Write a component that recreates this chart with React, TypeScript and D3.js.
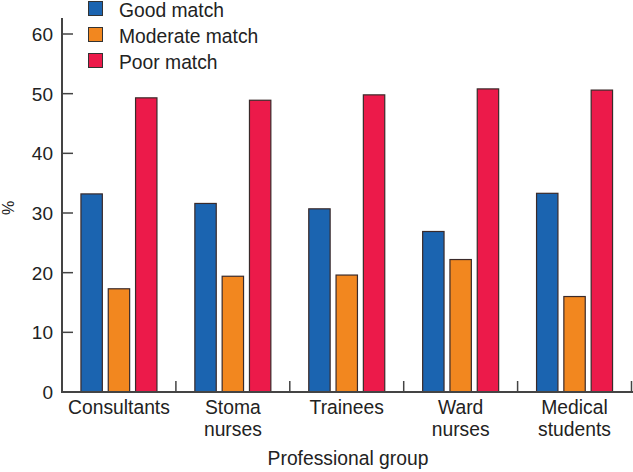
import React from "react";
import * as d3 from "d3";

const categories: string[][] = [
  ["Consultants"],
  ["Stoma", "nurses"],
  ["Trainees"],
  ["Ward", "nurses"],
  ["Medical", "students"],
];
const seriesNames = ["Good match", "Moderate match", "Poor match"];
const goodMatch = [33.2, 31.6, 30.7, 26.9, 33.3];
const moderateMatch = [17.3, 19.4, 19.6, 22.2, 16.0];
const poorMatch = [49.3, 48.9, 49.8, 50.8, 50.6];
const yTicks = [0, 10, 20, 30, 40, 50, 60];
const colors = ["#1b64b0", "#f2871f", "#ec1a4a"];

const W = 633;
const H = 472;
const x0 = 62;
const x1 = 631.5;
const yBottom = 392;

export default function App() {
  const series = [goodMatch, moderateMatch, poorMatch];
  const y = d3.scaleLinear().domain([0, 60]).range([yBottom, 34]);
  const xBand = d3
    .scaleBand<number>()
    .domain(d3.range(categories.length))
    .range([x0, x1])
    .paddingInner(0)
    .paddingOuter(0);
  const step = xBand.bandwidth();
  const groupWidth = 77;
  const xInner = d3
    .scaleBand<number>()
    .domain(d3.range(series.length))
    .range([0, groupWidth])
    .paddingInner(0.18);
  const font = "'Liberation Sans', Arial, Helvetica, sans-serif";
  const axisColor = "#444";

  return (
    <svg
      width={W}
      height={H}
      style={{ position: "absolute", left: 0, top: 0, background: "#fff" }}
      fontFamily={font}
    >
      {/* bars */}
      {categories.map((_, ci) => {
        const gx = (xBand(ci) as number) + (step - groupWidth) / 2;
        return (
          <g key={ci} transform={`translate(${gx},0)`}>
            {series.map((s, si) => (
              <rect
                key={si}
                x={(xInner(si) as number) + 0.5}
                y={y(s[ci])}
                width={xInner.bandwidth() - 1}
                height={yBottom - y(s[ci])}
                fill={colors[si]}
                stroke="#3a2a2a"
                strokeWidth={1.2}
              />
            ))}
          </g>
        );
      })}

      {/* y axis */}
      <line x1={x0} x2={x0} y1={18} y2={yBottom + 1} stroke={axisColor} strokeWidth={2} />
      {yTicks.map((t) => (
        <g key={t}>
          {t > 0 && (
            <line x1={x0} x2={x0 + 11} y1={y(t)} y2={y(t)} stroke={axisColor} strokeWidth={1.5} />
          )}
          <text x={53} y={y(t)} dy="0.36em" textAnchor="end" fontSize={19} fill="#222">
            {t}
          </text>
        </g>
      ))}
      <text
        transform={`translate(14,208) rotate(-90)`}
        textAnchor="middle"
        fontSize={16}
        fill="#222"
      >
        %
      </text>

      {/* x axis */}
      <line x1={x0 - 1} x2={W} y1={yBottom} y2={yBottom} stroke={axisColor} strokeWidth={2} />
      {categories.map((_, ci) =>
        ci > 0 ? (
          <line
            key={ci}
            x1={xBand(ci) as number}
            x2={xBand(ci) as number}
            y1={yBottom}
            y2={yBottom - 11}
            stroke={axisColor}
            strokeWidth={1.5}
          />
        ) : null
      )}
      <line x1={x1} x2={x1} y1={yBottom} y2={yBottom - 11} stroke={axisColor} strokeWidth={1.5} />
      {categories.map((lines, ci) => (
        <text
          key={ci}
          x={(xBand(ci) as number) + step / 2}
          y={414}
          textAnchor="middle"
          fontSize={19.3}
          fill="#222"
        >
          {lines.map((l, li) => (
            <tspan key={li} x={(xBand(ci) as number) + step / 2} dy={li === 0 ? 0 : 22}>
              {l}
            </tspan>
          ))}
        </text>
      ))}
      <text x={348} y={465} textAnchor="middle" fontSize={19.3} fill="#222">
        Professional group
      </text>

      {/* legend */}
      {seriesNames.map((n, i) => (
        <g key={n} transform={`translate(88,${1 + i * 26})`}>
          <rect x={0.5} y={0.5} width={14} height={14} fill={colors[i]} stroke="#333" strokeWidth={1} />
          <text x={31} y={15.5} fontSize={19.3} fill="#222">
            {n}
          </text>
        </g>
      ))}
    </svg>
  );
}
